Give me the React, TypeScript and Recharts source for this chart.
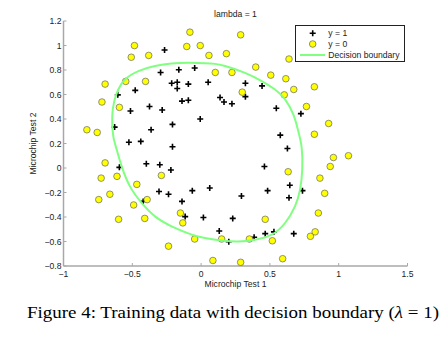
import React from 'react';
import { ScatterChart, Scatter, XAxis, YAxis, Legend } from 'recharts';

// Class y = 1 (accepted)
const posX = [0.051267,-0.092742,-0.21371,-0.375,-0.51325,-0.52477,-0.39804,-0.30588,0.016705,0.13191,0.38537,0.52938,0.63882,0.73675,0.54666,0.322,0.16647,-0.046659,-0.17339,-0.47869,-0.60541,-0.62846,-0.59389,-0.42108,-0.11578,0.20104,0.46601,0.67339,-0.13882,-0.29435,-0.26555,-0.16187,-0.17339,-0.28283,-0.36348,-0.30012,-0.23675,-0.06394,0.062788,0.22984,0.2932,0.48329,0.64459,0.46025,0.6273,0.57546,0.72523,0.22408,0.44297,0.322,0.13767,-0.0063364,-0.092742,-0.20795,-0.20795,-0.43836,-0.21947,-0.13882];
const posY = [0.69956,0.68494,0.69225,0.50219,0.46564,0.2098,0.034357,-0.19225,-0.40424,-0.51389,-0.56506,-0.5212,-0.24342,-0.18494,0.48757,0.5826,0.53874,0.81652,0.69956,0.63377,0.59722,0.33406,0.005117,-0.27266,-0.39693,-0.60161,-0.53582,-0.53582,0.54605,0.77997,0.96272,0.8019,0.64839,0.47295,0.31213,0.027047,-0.21418,-0.18494,-0.16301,-0.41155,-0.2288,-0.18494,-0.14108,0.012427,0.15863,0.26827,0.44371,0.52412,0.67032,0.69225,0.57529,0.39985,0.55336,0.35599,0.17325,0.21711,-0.016813,-0.27266];

// Class y = 0 (rejected)
const negX = [0.18376,0.22408,0.29896,0.50634,0.61578,0.60426,0.76555,0.92684,0.82316,0.96141,0.93836,0.86348,0.89804,0.85196,0.82892,0.79435,0.59274,0.51786,0.46601,0.35081,0.28744,0.085829,0.14919,-0.13306,-0.40956,-0.39228,-0.74366,-0.69758,-0.75518,-0.69758,-0.4038,-0.38076,-0.50749,-0.54781,0.10311,0.057028,-0.10426,-0.081221,0.28744,0.39689,0.63882,0.82316,0.67339,1.0709,-0.046659,-0.23675,-0.15035,-0.49021,-0.46717,-0.28859,-0.61118,-0.66302,-0.59965,-0.72638,-0.83007,-0.72062,-0.59389,-0.48445,-0.0063364,0.63265];
const negY = [0.93348,0.77997,0.61915,0.75804,0.7288,0.59722,0.50219,0.3633,0.27558,0.085526,0.012427,-0.082602,-0.20687,-0.36769,-0.5212,-0.55775,-0.7405,-0.5943,-0.41886,-0.57968,-0.76974,-0.75512,-0.57968,-0.4481,-0.41155,-0.25804,-0.25804,0.041667,0.2902,0.68494,0.70687,0.91886,0.90424,0.70687,0.77997,0.91886,0.99196,1.1089,1.087,0.82383,0.88962,0.66301,0.64108,0.10015,-0.57968,-0.63816,-0.36769,-0.3019,-0.13377,-0.060673,-0.067982,-0.21418,-0.41886,-0.082602,0.31213,0.53874,0.49488,0.99927,0.99927,-0.030612];

// Decision boundary (closed contour)
const boundaryX = [-0.645,-0.645,-0.631,-0.602,-0.553,-0.456,-0.335,-0.214,-0.093,0.028,0.101,0.174,0.319,0.44,0.537,0.61,0.67,0.706,0.731,0.735,0.719,0.682,0.61,0.513,0.392,0.27,0.15,0.028,-0.068,-0.214,-0.335,-0.432,-0.517,-0.577,-0.613,-0.635,-0.645];
const boundaryY = [0.329,0.437,0.546,0.641,0.723,0.791,0.832,0.853,0.859,0.856,0.85,0.832,0.777,0.71,0.641,0.56,0.437,0.302,0.166,-0.014,-0.177,-0.313,-0.449,-0.544,-0.585,-0.599,-0.591,-0.571,-0.544,-0.476,-0.395,-0.285,-0.15,0.013,0.149,0.24,0.329];

const xTicks = [-1, -0.5, 0, 0.5, 1, 1.5];
const yTicks = [-0.8, -0.6, -0.4, -0.2, 0, 0.2, 0.4, 0.6, 0.8, 1, 1.2];
const seriesNames = ['y = 1', 'y = 0', 'Decision boundary'];
const titleText = 'lambda = 1';
const xLabel = 'Microchip Test 1';
const yLabel = 'Microchip Test 2';

const posData = posX.map((x, i) => ({ x, y: posY[i] }));
const negData = negX.map((x, i) => ({ x, y: negY[i] }));
const boundaryData = boundaryX.map((x, i) => ({ x, y: boundaryY[i] }));

const FONT = '"Liberation Sans", Arial, Helvetica, sans-serif';
const FS = 8.6;
const AXIS = '#a8a8a8';
const GREEN = '#80ff80';

const fmt = (v: number) => String(Math.round(v * 10) / 10).replace('-', '\u2212');

const XTick = (props: any) => {
  const { x, y, payload } = props;
  return (
    <g>
      <line x1={x} x2={x} y1={y} y2={y - 3} stroke={AXIS} strokeWidth={1} />
      <text x={x} y={y + 11} textAnchor="middle" fontSize={FS} fontFamily={FONT} fill="#222">
        {fmt(payload.value)}
      </text>
    </g>
  );
};

const YTick = (props: any) => {
  const { x, y, payload } = props;
  return (
    <g>
      <line x1={x} x2={x + 3} y1={y} y2={y} stroke={AXIS} strokeWidth={1} />
      <text x={x - 2} y={y + 3} textAnchor="end" fontSize={FS} fontFamily={FONT} fill="#222">
        {fmt(payload.value)}
      </text>
    </g>
  );
};

const Plus = (props: any) => {
  const { cx, cy } = props;
  return <path d={`M${cx - 3},${cy}h6M${cx},${cy - 3}v6`} stroke="#000" strokeWidth={1.6} fill="none" />;
};

const Dot = (props: any) => {
  const { cx, cy } = props;
  return <circle cx={cx} cy={cy} r={3.3} fill="#ffff00" stroke="#666" strokeWidth={0.7} />;
};

const NoShape = () => <g />;

const renderLegend = () => (
  <svg width={110} height={37} style={{ display: 'block' }}>
    <rect x={0.5} y={0.5} width={109} height={36} fill="#fff" stroke="#222" strokeWidth={1} />
    <path d="M14.7,8.3h6M17.7,5.3v6" stroke="#000" strokeWidth={1.6} />
    <circle cx={17.7} cy={19} r={3.3} fill="#ffff00" stroke="#666" strokeWidth={0.7} />
    <line x1={5} x2={30} y1={30} y2={30} stroke={GREEN} strokeWidth={2} />
    <text x={33.3} y={11.3} fontSize={FS} fontFamily={FONT} fill="#222">{seriesNames[0]}</text>
    <text x={33.3} y={22} fontSize={FS} fontFamily={FONT} fill="#222">{seriesNames[1]}</text>
    <text x={33.3} y={33} fontSize={FS} fontFamily={FONT} fill="#222">{seriesNames[2]}</text>
  </svg>
);

export default function App() {
  return (
    <div style={{ position: 'absolute', left: 0, top: 0, width: 442, height: 340, background: '#fff' }}>
      <ScatterChart width={442} height={300} margin={{ top: 21, right: 34.5, bottom: 0, left: 0 }}>
        <XAxis
          type="number"
          dataKey="x"
          domain={[-1, 1.5]}
          ticks={xTicks}
          allowDataOverflow
          height={34}
          axisLine={{ stroke: AXIS, strokeWidth: 1.5 }}
          tickLine={false}
          tickSize={0}
          tickMargin={0}
          tick={<XTick />}
          interval={0}
          label={{ value: xLabel, position: 'insideTop', offset: 14.5, fontSize: FS, fontFamily: FONT, fill: '#222' }}
        />
        <YAxis
          type="number"
          dataKey="y"
          domain={[-0.8, 1.2]}
          ticks={yTicks}
          allowDataOverflow
          width={63.5}
          axisLine={{ stroke: AXIS, strokeWidth: 1.5 }}
          tickLine={false}
          tickSize={0}
          tickMargin={0}
          tick={<YTick />}
          interval={0}
          label={{
            value: yLabel,
            angle: -90,
            position: 'insideLeft',
            offset: 32.7,
            fontSize: FS,
            fontFamily: FONT,
            fill: '#222',
            style: { textAnchor: 'middle' },
          }}
        />
        <Legend
          layout="vertical"
          align="center"
          verticalAlign="middle"
          content={renderLegend}
          wrapperStyle={{ position: 'absolute', left: 295, top: 25, width: 110, height: 37 }}
        />
        <Scatter name={seriesNames[0]} data={posData} shape={<Plus />} isAnimationActive={false} />
        <Scatter name={seriesNames[1]} data={negData} shape={<Dot />} isAnimationActive={false} />
        <Scatter
          name={seriesNames[2]}
          data={boundaryData}
          shape={<NoShape />}
          line={{ stroke: GREEN, strokeWidth: 2, fill: 'none' }}
          lineJointType="natural"
          isAnimationActive={false}
        />
      </ScatterChart>
      <svg
        width={442}
        height={340}
        style={{ position: 'absolute', left: 0, top: 0, pointerEvents: 'none' }}
      >
        <text x={235.5} y={16.5} textAnchor="middle" fontSize={FS} fontFamily={FONT} fill="#222">
          {titleText}
        </text>
        <text
          x={27}
          y={318}
          fontSize={17}
          fontFamily='"Liberation Serif", "Times New Roman", serif'
          fill="#000"
          textLength={412}
          lengthAdjust="spacingAndGlyphs"
        >
          Figure 4: Training data with decision boundary (<tspan fontStyle="italic">λ</tspan> = 1)
        </text>
      </svg>
    </div>
  );
}
